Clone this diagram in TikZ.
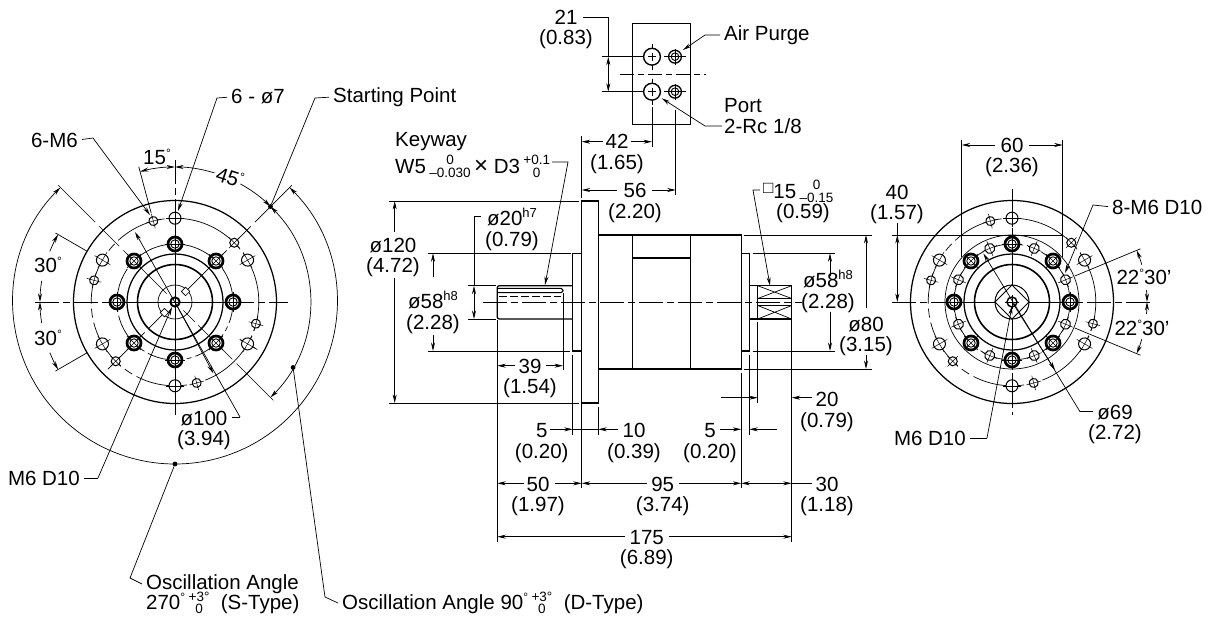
\documentclass[tikz,border=0pt]{standalone}
\usepackage{fontspec}
\setmainfont{Liberation Sans}
\usetikzlibrary{arrows.meta}
\newcommand{\dimfont}{\fontsize{20.5}{20.8}\selectfont}
\newcommand{\dg}{\raisebox{.35em}{\fontsize{12}{12}\selectfont °}}
\newcommand{\hfit}[1]{\raisebox{.42em}{\fontsize{13}{13}\selectfont #1}}
\newcommand{\tol}[2]{\mbox{\fontsize{13.5}{14}\selectfont\raisebox{-.3em}{\shortstack{#1\\[-.5pt]#2}}}}
\tikzstyle{lbl}=[inner sep=0, align=center, font=\dimfont]
\tikzstyle{lbltwo}=[lbl, yshift=-2.5pt]
\tikzstyle{lblw}=[inner sep=0, anchor=west, font=\dimfont]
\tikzstyle{lblb}=[inner sep=0, anchor=base west, font=\dimfont]
\tikzstyle{lble}=[inner sep=0, anchor=east, font=\dimfont]
\tikzstyle{outline}=[line width=1.25pt]
\tikzstyle{thinline}=[line width=.7pt]
\tikzstyle{axisline}=[line width=.7pt, dash pattern=on 24pt off 4pt on 7pt off 4pt]
\tikzstyle{dimline}=[line width=.7pt, >={Stealth[length=8.5pt,width=4pt]}]
\tikzstyle{leader}=[dimline, shorten <=4pt]
\tikzstyle{dotmark}=[circle, inner sep=1.7pt, fill=black]
\newcommand{\thinhole}[3]{%
  \begin{scope}[rotate=#1, shift={(#2,0)}]
    \draw[line width=1pt, fill=white] (0,0) circle (#3);
    \draw[thinline, line width=.5pt] (-#3-3,0)--(#3+3,0) (0,-#3-3)--(0,#3+3);
  \end{scope}}
\newcommand{\boldhole}[2]{%
  \begin{scope}[rotate=#1, shift={(#2,0)}]
    \draw[line width=2.7pt, fill=white] (0,0) circle (7);
    \draw[line width=.9pt] (0,0) circle (4.2);
    \draw[thinline, line width=.5pt] (-10,0)--(10,0) (0,-10)--(0,10);
  \end{scope}}
% parts that both flange faces share
\newcommand{\facecommon}{%
  \draw[outline] (0,0) circle (101.5);
  \draw[thinline, dash pattern=on 52pt off 5pt on 9pt off 5pt] (0,0) circle (83.8);
  \draw[outline] (0,0) circle (48);
  \draw[line width=1.6pt] (0,0) circle (37.5);
  \draw[thinline] (0,0) circle (17);
  \foreach \ang in {90,30,-30,-90,210,150} {\thinhole{\ang}{83.8}{6}}
  \foreach \ang in {45,105,165,225,285,345} {\thinhole{\ang}{83.8}{4.5}}
  \foreach \ang in {0,45,...,315} {\boldhole{\ang}{58}}}
\begin{document}
\begin{tikzpicture}[x=1pt, y=-1pt]
  \useasboundingbox (0,0) rectangle (1211,619);

  % left face
  \begin{scope}[shift={(175,302)}, y=1pt]
    \draw[axisline] (-140,0)--(113,0) (0,142)--(0,-113);
    \draw[thinline] (-62,0)--(62,0) (0,62)--(0,-62);
    \foreach \ang/\rr in {45/165, 135/165, -45/139, -135/95} {
      \draw[thinline, dash pattern=on 52pt off 6pt on 28pt off 6pt on 14pt off 5pt] (\ang:\rr)--(\ang:12);
    }
    \draw[thinline, dash pattern=on 36pt off 100pt] (150:138)--(150:80);
    \draw[thinline, dash pattern=on 36pt off 100pt] (210:138)--(210:80);
    \draw[thinline] (105:140)--(105:92);
    \draw[thinline, dash pattern=on 22pt off 5pt on 6pt off 5pt] (-30:95)--(-30:75);
    \draw[thinline, dash pattern=on 36pt off 4pt on 5pt off 4pt] (0,0) circle (58);
    \facecommon
    % keys and center hole
    \foreach \ang in {45,225} {
      \draw[thinline, fill=white, rotate=\ang] (12,-3) rectangle (18,3);
    }
    \draw[line width=2pt, fill=white] (0,0) circle (4.6);
    \draw[thinline] (-7,0)--(7,0) (0,-7)--(0,7);
    % angle dimensions
    \draw[dimline, <->] (105:135) arc (105:90:135);
    \draw[dimline, ->] (73:135) arc (73:90:135);
    \draw[dimline, ->] (61:135) arc (61:45:135);
    \draw[dimline, ->] (158:135) arc (158:150:135);
    \draw[dimline, ->] (171:135) arc (171:180:135);
    \draw[dimline, ->] (189:135) arc (189:180:135);
    \draw[dimline, ->] (202:135) arc (202:210:135);
    \draw[dimline, <->] (45:135) arc (45:-45:135);
    \draw[dimline, <->] (45:162) arc (45:-225:162);
    \node[dotmark] (startdot) at (45:135) {};
    \node[dotmark] (ddot) at (-29:135) {};
    \node[dotmark] (sdot) at (-90:162) {};
    \coordinate (lefthub) at (0,0);
  \end{scope}

  \node[lble] (sixm) at (78,140) {6-M6};
  \node[lblw] (sixhole) at (231,97) {6 - ø7};
  \node[lblw] (startpt) at (333,97) {Starting Point};
  \node[lbl] (ang15) at (157,157) {15\dg};
  \node[lbl, rotate=-18] (ang45) at (230,177) {45\dg};
  \node[lbl] (ang30a) at (48,265) {30\dg};
  \node[lbl] (ang30b) at (48,338) {30\dg};
  \node[lbltwo] (dia100) at (204,428) {ø100\\(3.94)};
  \node[lble] (mleft) at (80,478) {M6 D10};
  \node[lblb] (osc270a) at (146,589) {Oscillation Angle};
  \node[lblb] (osc270b) at (146,609) {270\dg\,\tol{+3°}{0}\ \ (S-Type)};
  \node[lblb] (osc90) at (342,609) {Oscillation Angle 90\dg\,\tol{+3°}{0}\ \ (D-Type)};

  \draw[leader, ->] (sixm.east)--(93,138)--(150,215);
  \draw[leader, ->] (sixhole.west)--(217,98)--(178,211);
  \draw[leader] (startpt.west)--(315,98)--(startdot);
  \draw[leader] (mleft.east)--(98,478);
  \draw[dimline, ->] (98,478)--(172,307);
  \draw[dimline] (232,417)--(240,417);
  \draw[dimline, ->] (240,417)--(135,232);
  \draw[dimline, ->] (lefthub)--(213.3,373.3);
  \draw[dimline] (sdot)--(130,578)--(142,584);
  \draw[dimline] (ddot)--(325,597)--(338,603);

  % top port block
  \draw[thinline, line width=1pt] (632.3,23.3) rectangle (690.7,124.3);
  \draw[thinline, dash pattern=on 14pt off 4pt on 6pt off 4pt] (620,74)--(706,74);
  \foreach \py in {56.7,91.7} {
    \draw[thinline] (652,\py-13)--(652,\py+13) (664,\py)--(686,\py);
    \draw[line width=1.4pt, fill=white] (652,\py) circle (8.4);
    \draw[thinline, line width=.5pt] (648,\py)--(656,\py) (652,\py-4)--(652,\py+4);
    \draw[line width=1.3pt, fill=white] (675,\py) circle (6.4);
    \draw[thinline, line width=.9pt] (675,\py) circle (3.8);
    \draw[thinline, line width=.5pt] (667,\py)--(683,\py) (675,\py-8)--(675,\py+8);
  }
  \draw[thinline] (602.3,56.7)--(643,56.7) (602.3,91.7)--(643,91.7);
  \draw[dimline, <->] (608.3,56.7)--(608.3,91.7);
  \node[lbltwo] (dim21) at (566,27) {21\\(0.83)};
  \draw[thinline] (583,17.7)--(608.3,17.7)--(608.3,56.7);
  \node[lblw] (airpurge) at (724,35) {Air Purge};
  \draw[leader, ->] (airpurge.west)--(705,35)--(683,50);
  \node[lblw, align=left] (port) at (724,116) {Port\\2-Rc 1/8};
  \draw[dimline, ->] (722,126)--(705,126)--(661.7,98.3);
  \draw[thinline] (652,107)--(652,147) (675.7,110)--(675.7,195);
  \draw[thinline] (581.7,136)--(581.7,198);
  \draw[dimline, ->] (603,141.7)--(581.7,141.7);
  \draw[dimline, ->] (631,141.7)--(652,141.7);
  \node[lbltwo] (dim42) at (617,151.5) {42\\(1.65)};
  \draw[dimline, ->] (617,190)--(581.7,190);
  \draw[dimline, ->] (652,190)--(675.7,190);
  \node[lbltwo] (dim56) at (635,200.5) {56\\(2.20)};

  % side view body
  \draw[outline] (581.7,201) rectangle (598.3,403);
  \draw[outline] (598.3,235) rectangle (741.3,369);
  \draw[outline] (632.3,235)--(632.3,369) (690.7,235)--(690.7,369);
  \draw[outline] (632.3,258)--(690.7,258);
  \draw[outline] (581.7,253.3)--(572.7,253.3)--(572.7,351)--(581.7,351);
  \draw[outline] (741.3,253.3)--(749.3,253.3)--(749.3,351)--(741.3,351);
  \draw[outline, rounded corners=2pt] (572.7,285.7)--(497.3,285.7)--(497.3,319)--(572.7,319);
  \draw[thinline, line width=1pt, rounded corners=1.8pt] (497.3,288.3)--(563,288.3)--(563,292.7)--(497.3,292.7);
  \draw[thinline, dash pattern=on 8pt off 3pt] (499,296)--(561,296);
  \draw[thinline] (563,293)--(563,370);
  \draw[outline] (749.3,285.7)--(791.7,285.7)--(791.7,319)--(749.3,319);
  \draw[thinline, line width=1pt] (757.7,285.7)--(757.7,319);
  \draw[thinline] (757.7,285.7)--(791.7,298.5) (757.7,298.5)--(791.7,285.7);
  \draw[thinline] (757.7,305.5)--(791.7,319) (757.7,319)--(791.7,305.5);
  \draw[line width=1.2pt] (757.7,298.5)--(791.7,298.5) (757.7,305.5)--(791.7,305.5);
  \draw[axisline] (483,302)--(801.7,302);

  % left side dimensions
  \draw[thinline] (389,201)--(579,201) (389,403)--(579,403);
  \draw[dimline, ->] (394.7,232)--(394.7,201);
  \draw[dimline, ->] (394.7,278)--(394.7,403);
  \node[lbltwo] (dia120) at (393,255) {ø120\\(4.72)};
  \draw[thinline] (428,253.3)--(571,253.3) (428,351)--(570,351);
  \draw[dimline, ->] (433,276.7)--(433,253.3);
  \draw[dimline, ->] (433,335)--(433,351);
  \node[lbltwo] (dia58a) at (433,310) {ø58\hfit{h8}\\(2.28)};
  \draw[thinline] (467.7,285.7)--(496,285.7) (467.7,319)--(496,319);
  \draw[thinline] (481,216.7)--(474,216.7)--(474,285.7);
  \draw[dimline, <->] (474,285.7)--(474,319);
  \node[lbltwo] (dia20) at (512,227) {ø20\hfit{h7}\\(0.79)};
  \node[lblb] (keyway) at (395,146) {Keyway};
  \node[lblb] (keysize) at (395,173) {W5\,\tol{0}{–0.030}\,{\fontsize{24}{24}\selectfont ×} D3\,\tol{+0.1}{0}};
  \draw[dimline, ->] (552,162)--(568,162)--(545,285);

  % right side dimensions
  \node[lblb] (squarelbl) at (763,198) {\raisebox{.2em}{\fontsize{17}{17}\selectfont □}15\,\tol{0}{–0.15}};
  \node[lbl] (dim059) at (803,213) {(0.59)};
  \draw[dimline, ->] (760,190)--(753,190)--(770,285.7);
  \draw[thinline] (744,235)--(872,235) (752.7,253.3)--(835,253.3) (752.7,351)--(835,351) (744,369)--(872,369);
  \draw[dimline, ->] (830,276)--(830,253.3);
  \draw[dimline, ->] (830,311.7)--(830,351);
  \node[lbltwo] (dia58b) at (828,289) {ø58\hfit{h8}\\(2.28)};
  \draw[dimline, ->] (866,308)--(866,235);
  \draw[dimline, ->] (866,355)--(866,369);
  \node[lbltwo] (dia80) at (866,334) {ø80\\(3.15)};

  % bottom dimensions
  \draw[thinline] (497.3,320)--(497.3,541.7) (791.7,320)--(791.7,541.7);
  \draw[thinline] (581.7,404)--(581.7,488) (741.3,373)--(741.3,488);
  \draw[thinline] (572.7,355)--(572.7,435) (598.3,406.7)--(598.3,435);
  \draw[thinline] (749.3,355)--(749.3,435) (757.7,322)--(757.7,403);
  \draw[dimline, ->] (515,365.7)--(497.3,365.7);
  \draw[dimline, ->] (546,365.7)--(563,365.7);
  \node[lbltwo] (dim39) at (530,376) {39\\(1.54)};
  \draw[dimline, ->] (721,397.7)--(757.7,397.7);
  \draw[dimline, ->] (812,397.7)--(791.7,397.7);
  \node[lbltwo] (dim20) at (827,409.5) {20\\(0.79)};
  \draw[dimline, ->] (550,429.3)--(572.7,429.3);
  \draw[dimline, ->] (618,429.3)--(598.3,429.3);
  \draw[thinline] (572.7,429.3)--(598.3,429.3);
  \node[lbltwo] (dim5a) at (541.7,440.5) {5\\(0.20)};
  \node[lbltwo] (dim10) at (634,440.5) {10\\(0.39)};
  \draw[dimline, ->] (720,429.3)--(741.3,429.3);
  \draw[dimline, ->] (777,429.3)--(749.3,429.3);
  \node[lbltwo] (dim5b) at (710,440.5) {5\\(0.20)};
  \draw[dimline, ->] (524,483.3)--(497.3,483.3);
  \draw[dimline, ->] (555,483.3)--(581.7,483.3);
  \node[lbltwo] (dim50) at (538,494) {50\\(1.97)};
  \draw[dimline, ->] (647,483.3)--(581.7,483.3);
  \draw[dimline, ->] (679,483.3)--(741.3,483.3);
  \node[lbltwo] (dim95) at (662.7,494) {95\\(3.74)};
  \draw[dimline, <->] (741.3,483.3)--(791.7,483.3);
  \draw[thinline] (791.7,483.3)--(811.7,483.3);
  \node[lbltwo] (dim30) at (827,494) {30\\(1.18)};
  \draw[dimline, ->] (625,536.7)--(497.3,536.7);
  \draw[dimline, ->] (669,536.7)--(791.7,536.7);
  \node[lbltwo] (dim175) at (646.7,547) {175\\(6.89)};

  % right face
  \begin{scope}[shift={(1012,302)}, y=1pt]
    \draw[axisline] (-120,0)--(140,0) (0,113)--(0,-113);
    \draw[thinline] (-62,0)--(62,0) (0,62)--(0,-62);
    \draw[thinline, dash pattern=on 60pt off 5pt on 10pt off 5pt] (0,0) circle (58);
    \draw[thinline] (0,0) circle (67);
    \foreach \ang in {22.5,-22.5} {
      \draw[thinline] (\ang:68)--(\ang:139);
    }
    \facecommon
    \foreach \ang in {22.5,67.5,...,337.5} {\thinhole{\ang}{58}{5}}
    \draw[outline, line width=.9pt, fill=white, rotate=45] (-12,-12) rectangle (12,12);
    \draw[thinline] (0,0) circle (17);
    \draw[line width=1.4pt, fill=white] (0,0) circle (5);
    \draw[thinline] (-7,0)--(7,0) (0,-7)--(0,7);
    \draw[dimline, ->] (16:135) arc (16:22.5:135);
    \draw[dimline, ->] (5:135) arc (5:0:135);
    \draw[dimline, ->] (-5:135) arc (-5:0:135);
    \draw[dimline, ->] (-16:135) arc (-16:-22.5:135);
    \coordinate (righthub) at (0,0);
  \end{scope}

  \draw[thinline] (961.7,140)--(961.7,235) (1062.7,140)--(1062.7,235);
  \draw[outline] (961.7,235)--(961.7,257) (1062.7,235)--(1062.7,257);
  \draw[thinline, line width=1pt] (892,235)--(1063,235);
  \draw[dimline, ->] (995,145)--(961.7,145);
  \draw[dimline, ->] (1029,145)--(1062.7,145);
  \node[lbltwo] (dim60) at (1012,155) {60\\(2.36)};
  \draw[thinline] (897.3,223)--(897.3,235);
  \draw[dimline, <->] (897.3,235)--(897.3,302);
  \node[lbltwo] (dim40) at (897,202) {40\\(1.57)};
  \node[lblw] (eightm) at (1112,207) {8-M6 D10};
  \draw[leader, ->] (eightm.west)--(1093,205)--(1065,273);
  \node[lbltwo] (dia69) at (1115,422) {ø69\\(2.72)};
  \draw[dimline] (1093,411.7)--(1080,411.7);
  \draw[dimline, ->] (1080,411.7)--(983.3,253.3);
  \draw[dimline, ->] (righthub)--(1055,370);
  \node[lble] (mright) at (966,438) {M6 D10};
  \draw[leader] (mright.east)--(987,438);
  \draw[dimline, ->] (987,438)--(1012,306);
  \node[lbl] (ang22a) at (1144,277) {22\dg 30'};
  \node[lbl] (ang22b) at (1142,328) {22\dg 30'};
\end{tikzpicture}
\end{document}
